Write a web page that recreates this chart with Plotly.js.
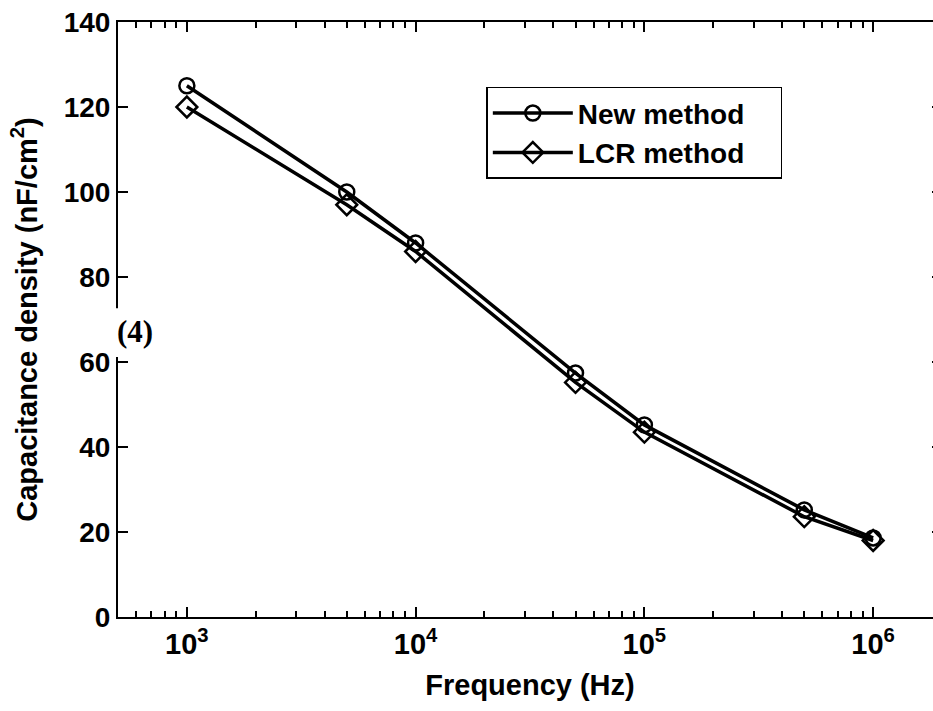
<!DOCTYPE html>
<html>
<head>
<meta charset="utf-8">
<script src="https://cdn.plot.ly/plotly-3.0.1.min.js"></script>
<style>html,body{margin:0;padding:0;overflow:hidden;background:#fff;}</style>
</head>
<body>
<div id="chart"></div>
<script>
const frequency = [1e3, 5e3, 1e4, 5e4, 1e5, 5e5, 1e6];
const newMethod = [125, 100, 88, 57.4, 45.2, 25.2, 18.6];
const lcrMethod = [120, 97, 86, 55.2, 43.5, 23.6, 18.0];
const seriesNames = ['New method', 'LCR method'];
const xTickVals = [1e3, 1e4, 1e5, 1e6];
const xTickText = ['10<sup>3</sup>', '10<sup>4</sup>', '10<sup>5</sup>', '10<sup>6</sup>'];
const yTickVals = [0, 20, 40, 60, 80, 100, 120, 140];

const minorVals = [];
for (let d = 100; d <= 1e6; d *= 10) {
  for (let m = 2; m <= 9; m++) {
    const v = m * d;
    if (v >= 500 && v <= 2e6) minorVals.push(v);
  }
}

const font = 'Liberation Sans, Arial, sans-serif';
const lineStyle = {color: '#000', width: 3.5};
const pad = '\u00a0\u00a0\u00a0\u00a0';

const traces = [
  {x: frequency, y: newMethod, name: seriesNames[0] + pad, type: 'scatter', mode: 'lines+markers',
   line: lineStyle, marker: {symbol: 'circle-open', size: 15, color: '#000', line: {width: 2.5, color: '#000'}}},
  {x: frequency, y: lcrMethod, name: seriesNames[1] + pad, type: 'scatter', mode: 'lines+markers',
   line: lineStyle, marker: {symbol: 'diamond-open', size: 16, color: '#000', line: {width: 2.5, color: '#000'}}}
];

const layout = {
  width: 943, height: 711,
  margin: {l: 118, r: 1, t: 22, b: 94},
  paper_bgcolor: '#fff', plot_bgcolor: '#fff',
  font: {family: font, color: '#000', size: 28},
  showlegend: true,
  legend: {x: 0.447, y: 0.891, xanchor: 'left', yanchor: 'top',
           bordercolor: '#000', borderwidth: 1.5, bgcolor: '#fff',
           font: {family: font, size: 28, weight: 'bold', color: '#000'},
           itemwidth: 80, tracegroupgap: 0},
  xaxis: {
    type: 'log', range: [Math.log10(500), Math.log10(2e6)],
    tickmode: 'array', tickvals: xTickVals, ticktext: xTickText,
    ticks: 'inside', ticklen: 10, tickwidth: 2, tickcolor: '#000',
    minor: {tickmode: 'array', tickvals: minorVals, ticks: 'inside', ticklen: 6, tickwidth: 2, tickcolor: '#000', showgrid: false},
    showline: true, linecolor: '#000', linewidth: 2, mirror: 'ticks',
    showgrid: false, zeroline: false,
    tickfont: {family: font, size: 29, weight: 'bold'},
    title: {text: 'Frequency (Hz)', font: {family: font, size: 29, weight: 'bold'}, standoff: 16}
  },
  yaxis: {
    range: [0, 140], tickmode: 'array', tickvals: yTickVals,
    ticks: 'inside', ticklen: 10, tickwidth: 2, tickcolor: '#000',
    showline: true, linecolor: '#000', linewidth: 2, mirror: 'ticks',
    showgrid: false, zeroline: false,
    tickfont: {family: font, size: 28, weight: 'bold'},
    title: {text: 'Capacitance density (nF/cm<sup>2</sup>)', font: {family: font, size: 29, weight: 'bold'}, standoff: 18}
  },
  shapes: [
    {type: 'rect', xref: 'paper', yref: 'paper', x0: -0.01, x1: 0.05, y0: 0.437, y1: 0.519,
     fillcolor: '#fff', line: {width: 0}, layer: 'above'}
  ],
  annotations: [
    {text: '(4)', xref: 'paper', yref: 'paper', x: -0.004, y: 0.48, xanchor: 'left', yanchor: 'middle',
     showarrow: false, font: {family: 'Liberation Serif, Times New Roman, serif', size: 31, weight: 'bold', color: '#000'}}
  ]
};

Plotly.newPlot('chart', traces, layout, {displayModeBar: false, staticPlot: true});
</script>
</body>
</html>
